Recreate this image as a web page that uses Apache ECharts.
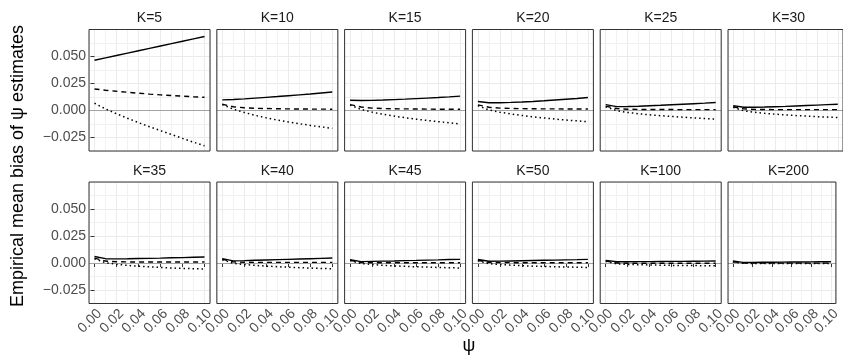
<!DOCTYPE html>
<html>
<head>
<meta charset="utf-8">
<script src="https://cdn.jsdelivr.net/npm/echarts@6/dist/echarts.min.js"></script>
<style>
  html, body { margin: 0; padding: 0; background: #fff; }
  #chart { width: 843px; height: 356px; }
</style>
</head>
<body>
<div id="chart"></div>
<script>
const kLabels = ['K=5', 'K=10', 'K=15', 'K=20', 'K=25', 'K=30',
                 'K=35', 'K=40', 'K=45', 'K=50', 'K=100', 'K=200'];
const psiValues = [0, 0.01, 0.02, 0.03, 0.04, 0.05, 0.06, 0.07, 0.08, 0.09, 0.1];
const psiTicks = [0, 0.02, 0.04, 0.06, 0.08, 0.1];
const biasTicks = [-0.025, 0, 0.025, 0.05];

// one row per panel, values at psiValues
const solidBias = [
  [0.0465, 0.0487, 0.0509, 0.0531, 0.0553, 0.0575, 0.0597, 0.0619, 0.0641, 0.0663, 0.0685],
  [0.0098, 0.0102, 0.0108, 0.0115, 0.0122, 0.0129, 0.0137, 0.0145, 0.0153, 0.0162, 0.0171],
  [0.0095, 0.0093, 0.0094, 0.0097, 0.0101, 0.0105, 0.0110, 0.0115, 0.0120, 0.0126, 0.0133],
  [0.0083, 0.0072, 0.0072, 0.0075, 0.0079, 0.0084, 0.0090, 0.0097, 0.0104, 0.0111, 0.0120],
  [0.0054, 0.0036, 0.0037, 0.0040, 0.0044, 0.0048, 0.0053, 0.0058, 0.0063, 0.0068, 0.0074],
  [0.0045, 0.0030, 0.0030, 0.0032, 0.0035, 0.0038, 0.0042, 0.0046, 0.0050, 0.0054, 0.0058],
  [0.0060, 0.0040, 0.0038, 0.0039, 0.0041, 0.0043, 0.0045, 0.0048, 0.0050, 0.0053, 0.0055],
  [0.0040, 0.0020, 0.0022, 0.0025, 0.0028, 0.0031, 0.0034, 0.0037, 0.0040, 0.0043, 0.0046],
  [0.0030, 0.0013, 0.0015, 0.0017, 0.0019, 0.0022, 0.0024, 0.0027, 0.0029, 0.0032, 0.0034],
  [0.0032, 0.0016, 0.0017, 0.0019, 0.0021, 0.0023, 0.0025, 0.0027, 0.0029, 0.0031, 0.0034],
  [0.0024, 0.0012, 0.0012, 0.0013, 0.0013, 0.0014, 0.0015, 0.0015, 0.0016, 0.0017, 0.0018],
  [0.0018, 0.0006, 0.0006, 0.0007, 0.0007, 0.0008, 0.0009, 0.0009, 0.0010, 0.0011, 0.0012]
];
const dashedBias = [
  [0.0199, 0.0188, 0.0178, 0.0169, 0.0160, 0.0152, 0.0145, 0.0139, 0.0133, 0.0127, 0.0122],
  [0.0058, 0.0035, 0.0025, 0.0020, 0.0018, 0.0016, 0.0015, 0.0014, 0.0013, 0.0013, 0.0012],
  [0.0055, 0.0032, 0.0022, 0.0018, 0.0016, 0.0015, 0.0014, 0.0013, 0.0012, 0.0012, 0.0011],
  [0.0052, 0.0030, 0.0022, 0.0019, 0.0017, 0.0016, 0.0015, 0.0015, 0.0014, 0.0014, 0.0014],
  [0.0040, 0.0018, 0.0012, 0.0010, 0.0009, 0.0009, 0.0009, 0.0008, 0.0008, 0.0008, 0.0008],
  [0.0035, 0.0015, 0.0010, 0.0009, 0.0008, 0.0008, 0.0008, 0.0008, 0.0008, 0.0008, 0.0008],
  [0.0045, 0.0018, 0.0012, 0.0010, 0.0009, 0.0009, 0.0009, 0.0009, 0.0009, 0.0009, 0.0009],
  [0.0035, 0.0010, 0.0007, 0.0006, 0.0006, 0.0006, 0.0006, 0.0006, 0.0006, 0.0006, 0.0006],
  [0.0025, 0.0005, 0.0003, 0.0002, 0.0002, 0.0002, 0.0002, 0.0002, 0.0002, 0.0002, 0.0002],
  [0.0025, 0.0006, 0.0004, 0.0003, 0.0003, 0.0003, 0.0003, 0.0003, 0.0003, 0.0003, 0.0003],
  [0.0018, 0.0000, -0.0002, -0.0003, -0.0003, -0.0003, -0.0003, -0.0003, -0.0003, -0.0003, -0.0003],
  [0.0012, 0.0000, -0.0001, -0.0001, -0.0001, -0.0001, -0.0001, -0.0001, -0.0001, -0.0001, -0.0001]
];
const dottedBias = [
  [0.0067, 0.0015, -0.0030, -0.0072, -0.0112, -0.0150, -0.0187, -0.0222, -0.0258, -0.0293, -0.0327],
  [0.0055, 0.0012, -0.0018, -0.0045, -0.0068, -0.0088, -0.0106, -0.0122, -0.0138, -0.0152, -0.0165],
  [0.0050, 0.0010, -0.0015, -0.0035, -0.0052, -0.0067, -0.0080, -0.0092, -0.0103, -0.0114, -0.0125],
  [0.0045, 0.0005, -0.0016, -0.0032, -0.0046, -0.0058, -0.0069, -0.0079, -0.0088, -0.0096, -0.0104],
  [0.0035, -0.0002, -0.0018, -0.0030, -0.0040, -0.0048, -0.0055, -0.0062, -0.0068, -0.0074, -0.0079],
  [0.0030, -0.0003, -0.0016, -0.0026, -0.0034, -0.0041, -0.0047, -0.0052, -0.0057, -0.0061, -0.0065],
  [0.0040, 0.0003, -0.0012, -0.0022, -0.0030, -0.0036, -0.0041, -0.0046, -0.0050, -0.0053, -0.0056],
  [0.0030, -0.0003, -0.0014, -0.0022, -0.0029, -0.0034, -0.0039, -0.0043, -0.0047, -0.0050, -0.0053],
  [0.0022, -0.0005, -0.0014, -0.0021, -0.0027, -0.0031, -0.0035, -0.0038, -0.0041, -0.0044, -0.0046],
  [0.0020, -0.0006, -0.0014, -0.0020, -0.0025, -0.0029, -0.0032, -0.0035, -0.0037, -0.0039, -0.0041],
  [0.0015, -0.0008, -0.0013, -0.0016, -0.0018, -0.0020, -0.0022, -0.0023, -0.0024, -0.0025, -0.0026],
  [0.0010, -0.0002, -0.0004, -0.0004, -0.0005, -0.0005, -0.0005, -0.0005, -0.0005, -0.0005, -0.0005]
];

const FONT = '"Liberation Sans", Arial, sans-serif';
const nCols = 6;
const panelLeft = 89, panelStep = 127.8, panelW = 121, panelH = 121.5;
const rowTops = [29.5, 182];
const xMin = -0.005, xMax = 0.105;
const yMin = -0.0375, yMax = 0.075;

const chart = echarts.init(document.getElementById('chart'));

const grids = [], xAxes = [], yAxes = [], series = [], graphics = [];

kLabels.forEach((k, i) => {
  const col = i % nCols, row = Math.floor(i / nCols);
  const left = panelLeft + col * panelStep;
  const top = rowTops[row];
  grids.push({
    left: left, top: top, width: panelW, height: panelH,
    show: true, z: 5, backgroundColor: 'transparent',
    borderColor: '#333333', borderWidth: 1
  });

  // primary axes: only grid lines
  xAxes.push({
    type: 'value', gridIndex: i, min: xMin, max: xMax, splitNumber: 5,
    axisLine: { show: false }, axisTick: { show: false }, axisLabel: { show: false },
    splitLine: { lineStyle: { color: '#EBEBEB', width: 1 } },
    minorTick: { show: false, splitNumber: 2 },
    minorSplitLine: { show: true, lineStyle: { color: '#F2F2F2', width: 1 } }
  });
  // secondary axes: ticks and labels
  xAxes.push({
    type: 'value', gridIndex: i, position: 'bottom', min: xMin, max: xMax,
    axisLine: { show: false }, splitLine: { show: false },
    axisTick: { show: row === 1, length: 4, customValues: psiTicks, lineStyle: { color: '#333333' } },
    axisLabel: {
      show: row === 1, customValues: psiTicks, rotate: 45, margin: 3,
      align: 'right', verticalAlign: 'top',
      fontFamily: FONT, fontSize: 14, color: '#4D4D4D',
      formatter: v => v.toFixed(2)
    }
  });

  yAxes.push({
    type: 'value', gridIndex: i, min: yMin, max: yMax, interval: 0.0125,
    axisLine: { show: false }, axisTick: { show: false }, axisLabel: { show: false },
    splitLine: { lineStyle: { color: ['#F0F0F0', '#EBEBEB'], width: 1 } }
  });
  yAxes.push({
    type: 'value', gridIndex: i, position: 'left', min: yMin, max: yMax,
    axisLine: { show: false }, splitLine: { show: false },
    axisTick: { show: col === 0, length: 4, customValues: biasTicks, lineStyle: { color: '#333333' } },
    axisLabel: {
      show: col === 0, customValues: biasTicks, margin: 3,
      fontFamily: FONT, fontSize: 14, color: '#4D4D4D',
      formatter: v => v.toFixed(3).replace('-', '\u2212')
    }
  });

  const xi = 2 * i, yi = 2 * i;
  series.push({
    type: 'line', xAxisIndex: xi, yAxisIndex: yi, symbol: 'none', z: 3,
    data: psiValues.map((x, j) => [x, solidBias[i][j]]),
    lineStyle: { color: '#000', width: 1.4, type: 'solid' },
    markLine: {
      silent: true, symbol: 'none', label: { show: false }, animation: false,
      lineStyle: { color: '#A3A3A3', width: 1, type: 'solid' },
      data: [{ yAxis: 0 }], z: 2
    }
  });
  series.push({
    type: 'line', xAxisIndex: xi, yAxisIndex: yi, symbol: 'none', z: 3,
    data: psiValues.map((x, j) => [x, dashedBias[i][j]]),
    lineStyle: { color: '#000', width: 1.4, type: [5, 4] }
  });
  series.push({
    type: 'line', xAxisIndex: xi, yAxisIndex: yi, symbol: 'none', z: 3,
    data: psiValues.map((x, j) => [x, dottedBias[i][j]]),
    lineStyle: { color: '#000', width: 1.5, type: [1.5, 3] }
  });

  graphics.push({
    type: 'text', x: left + panelW / 2, y: top - 11,
    style: { text: k, font: '14px ' + FONT, fill: '#1A1A1A', align: 'center', verticalAlign: 'middle' }
  });
});

graphics.push({
  type: 'text', x: 18, y: 166, rotation: Math.PI / 2,
  style: { text: 'Empirical mean bias of \u03C8 estimates', font: '18px ' + FONT, fill: '#000',
           align: 'center', verticalAlign: 'middle' }
});
graphics.push({
  type: 'text', x: 469, y: 346,
  style: { text: '\u03C8', font: '18px ' + FONT, fill: '#000', align: 'center', verticalAlign: 'middle' }
});

chart.setOption({
  animation: false,
  grid: grids,
  xAxis: xAxes,
  yAxis: yAxes,
  series: series,
  graphic: graphics
});
</script>
</body>
</html>
